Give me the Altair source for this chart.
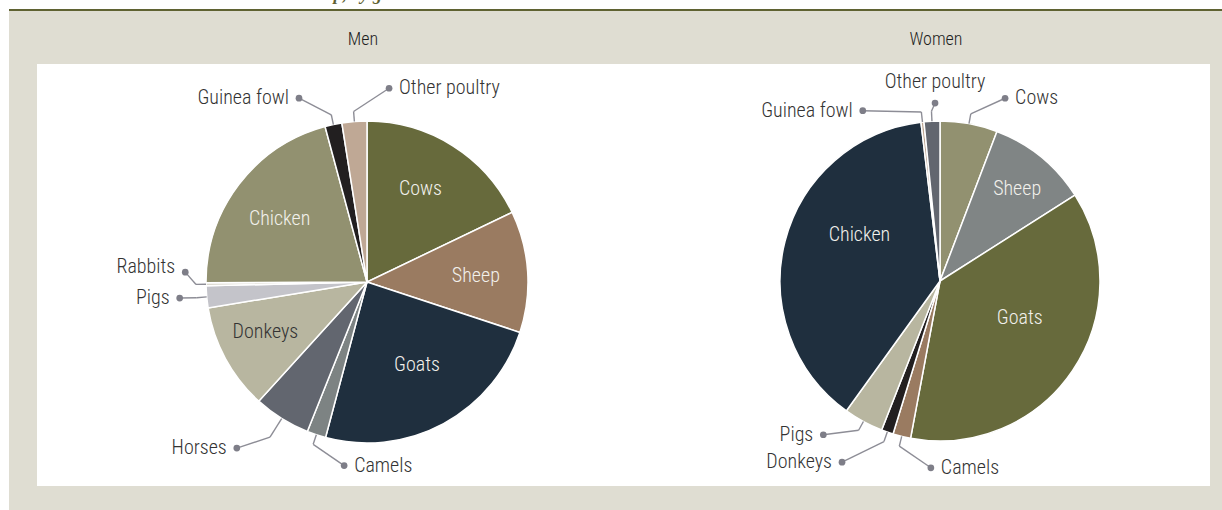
import altair as alt
import pandas as pd

# ---------------- data ----------------
men_animals = ["Cows", "Sheep", "Goats", "Camels", "Horses", "Donkeys", "Pigs",
               "Rabbits", "Chicken", "Guinea fowl", "Other poultry"]
men_share = [17.9, 12.2, 24.1, 1.9, 5.7, 10.7, 2.2, 0.3, 20.9, 1.7, 2.5]

women_animals = ["Cows", "Sheep", "Goats", "Camels", "Donkeys", "Pigs",
                 "Chicken", "Guinea fowl", "Other poultry"]
women_share = [5.8, 10.2, 37.0, 1.8, 1.2, 4.0, 38.2, 0.3, 1.6]

panel_titles = ["Men", "Women"]

# ---------------- styles / layout ----------------
men_colors = ["#676a3c", "#9a7b61", "#1f2f3e", "#7d8383", "#62666f", "#b8b6a0",
              "#c4c4ca", "#d9d6cc", "#929170", "#221f20", "#bfa895"]
women_colors = ["#929170", "#808585", "#676a3c", "#9a7b61", "#221f20", "#b8b6a0",
                "#1f2f3e", "#bfa895", "#62666f"]

# label placement: kind, angle (deg, clockwise from 12 o'clock), radius, side, elbow radius
men_layout = {
    "Cows": ("in", 30, 107, "c", 0),
    "Sheep": ("in", 87, 109, "c", 0),
    "Goats": ("in", 149, 97, "c", 0),
    "Camels": ("out", 187.1, 185, "right", 171),
    "Horses": ("out", 218.1, 211, "left", 183),
    "Donkeys": ("in", 244, 113, "c", 0),
    "Pigs": ("out", 265.1, 188, "left", 171),
    "Rabbits": ("out", 273.1, 182, "left", 171),
    "Chicken": ("in", 306, 108, "c", 0),
    "Guinea fowl": ("out", 339.7, 196, "left", 171),
    "Other poultry": ("out", 6.5, 195, "right", 171),
}
women_layout = {
    "Cows": ("out", 19.6, 194, "right", 170),
    "Sheep": ("in", 40, 120, "c", 0),
    "Goats": ("in", 115, 88, "c", 0),
    "Camels": ("out", 182.8, 187, "right", 170),
    "Donkeys": ("out", 208.4, 206, "left", 170),
    "Pigs": ("out", 217.2, 193, "left", 170),
    "Chicken": ("in", 300, 93, "c", 0),
    "Guinea fowl": ("out", 335.6, 187, "left", 170),
    "Other poultry": ("out", 358.4, 178, "top", 170),
}
dark_inside = {("Men", "Donkeys")}

PANELS = {"Men": dict(cx=367, cy=282, r=161), "Women": dict(cx=940, cy=281, r=160)}

FONT = "'Roboto Condensed', 'Liberation Sans Narrow', 'DejaVu Sans Condensed', 'Liberation Sans', sans-serif"
WEIGHT = 300

rows = []
keys, colors = [], []
for panel, animals, shares, cols, layout in [
    ("Men", men_animals, men_share, men_colors, men_layout),
    ("Women", women_animals, women_share, women_colors, women_layout),
]:
    for i, (a, s, c) in enumerate(zip(animals, shares, cols)):
        kind, la, lr, side, er = layout[a]
        key = f"{panel}: {a}"
        keys.append(key)
        colors.append(c)
        rows.append(dict(panel=panel, idx=i, animal=a, share=s, key=key,
                         kind=kind, la=la, lr=lr, side=side, er=er,
                         tcol="#333333" if (panel, a) in dark_inside else "#f2f1ec"))
df = pd.DataFrame(rows)

layers = []

# ---------------- background ----------------
dummy = pd.DataFrame({"d": [0]})
bg = alt.Chart(dummy).mark_rect(color="#dfddd2").encode(
    x=alt.value(9), x2=alt.value(1222), y=alt.value(11), y2=alt.value(510))
panel_bg = alt.Chart(dummy).mark_rect(color="#ffffff").encode(
    x=alt.value(37), x2=alt.value(1210), y=alt.value(64), y2=alt.value(486))
topline = alt.Chart(dummy).mark_rule(color="#5f6232", strokeWidth=2).encode(
    x=alt.value(9), x2=alt.value(1222), y=alt.value(10))
cut_title = alt.Chart(dummy).mark_text(
    font="'Liberation Serif', serif", fontStyle="italic", fontWeight="bold",
    fontSize=18, color="#5f6232", align="right", baseline="alphabetic").encode(
    x=alt.value(424), y=alt.value(0), text=alt.value("Livestock ownership, by gender"))
layers += [bg, panel_bg, topline, cut_title]

title_df = pd.DataFrame({"t": panel_titles,
                         "x": [PANELS[p]["cx"] - 4 for p in panel_titles]})
titles = alt.Chart(title_df).mark_text(font=FONT, fontSize=18, fontWeight=WEIGHT,
                                       color="#1e1e1e", baseline="middle").encode(
    x=alt.X("x:Q", scale=None), y=alt.value(40), text="t:N")
layers.append(titles)

# ---------------- pies ----------------
for panel, g in PANELS.items():
    cx, cy, r = g["cx"], g["cy"], g["r"]
    base = alt.Chart(df).transform_filter(alt.datum.panel == panel)

    arcs = base.mark_arc(radius=r, stroke="white", strokeWidth=1.5).encode(
        theta=alt.Theta("share:Q", stack=True),
        order=alt.Order("idx:Q"),
        color=alt.Color("key:N", scale=alt.Scale(domain=keys, range=colors), legend=None),
        x=alt.value(cx), y=alt.value(cy),
    )
    layers.append(arcs)

    geo = base.transform_joinaggregate(total="sum(share)").transform_window(
        cum="sum(share)", sort=[alt.SortField("idx")], frame=[None, 0]
    ).transform_calculate(
        am="(datum.cum - datum.share/2) / datum.total * 2 * PI",
        lrad="datum.la * PI / 180",
    ).transform_calculate(
        sx=f"{cx} + {r} * sin(datum.am)",
        sy=f"{cy} - {r} * cos(datum.am)",
        ex=f"{cx} + datum.er * sin(datum.am)",
        ey=f"{cy} - datum.er * cos(datum.am)",
        dx=f"{cx} + datum.lr * sin(datum.lrad)",
        dy=f"{cy} - datum.lr * cos(datum.lrad)",
    ).transform_calculate(
        tx="datum.side == 'left' ? datum.dx - 10 : (datum.side == 'right' ? datum.dx + 10 : datum.dx)",
        ty="datum.side == 'top' ? datum.dy - 21 : (datum.animal == 'Rabbits' ? datum.dy - 5 : datum.dy)",
    )

    out = geo.transform_filter(alt.datum.kind == "out")
    seg1 = out.mark_rule(color="#8d8d96", strokeWidth=1.4).encode(
        x=alt.X("sx:Q", scale=None), y=alt.Y("sy:Q", scale=None),
        x2="ex:Q", y2="ey:Q")
    seg2 = out.mark_rule(color="#8d8d96", strokeWidth=1.4).encode(
        x=alt.X("ex:Q", scale=None), y=alt.Y("ey:Q", scale=None),
        x2="dx:Q", y2="dy:Q")
    dots = out.mark_circle(size=45, color="#7e7e88", opacity=1).encode(
        x=alt.X("dx:Q", scale=None), y=alt.Y("dy:Q", scale=None))
    layers += [seg1, seg2, dots]

    for side, align in [("left", "right"), ("right", "left"), ("top", "center")]:
        t = out.transform_filter(alt.datum.side == side).mark_text(
            font=FONT, fontSize=20, fontWeight=WEIGHT, color="#333333",
            align=align, baseline="middle"
        ).encode(x=alt.X("tx:Q", scale=None), y=alt.Y("ty:Q", scale=None), text="animal:N")
        layers.append(t)

    inside = geo.transform_filter(alt.datum.kind == "in").mark_text(
        font=FONT, fontSize=20, fontWeight=WEIGHT, align="center", baseline="middle"
    ).encode(x=alt.X("tx:Q", scale=None), y=alt.Y("ty:Q", scale=None),
             text="animal:N", color=alt.Color("tcol:N", scale=None))
    layers.append(inside)

chart = alt.layer(*layers).resolve_scale(theta="independent").properties(
    width=1222, height=510, padding=0,
    autosize=alt.AutoSizeParams(type="none"),
    background="#ffffff",
).configure_view(stroke=None)

chart.save("out.html", embed_options={"renderer": "svg", "actions": False})
